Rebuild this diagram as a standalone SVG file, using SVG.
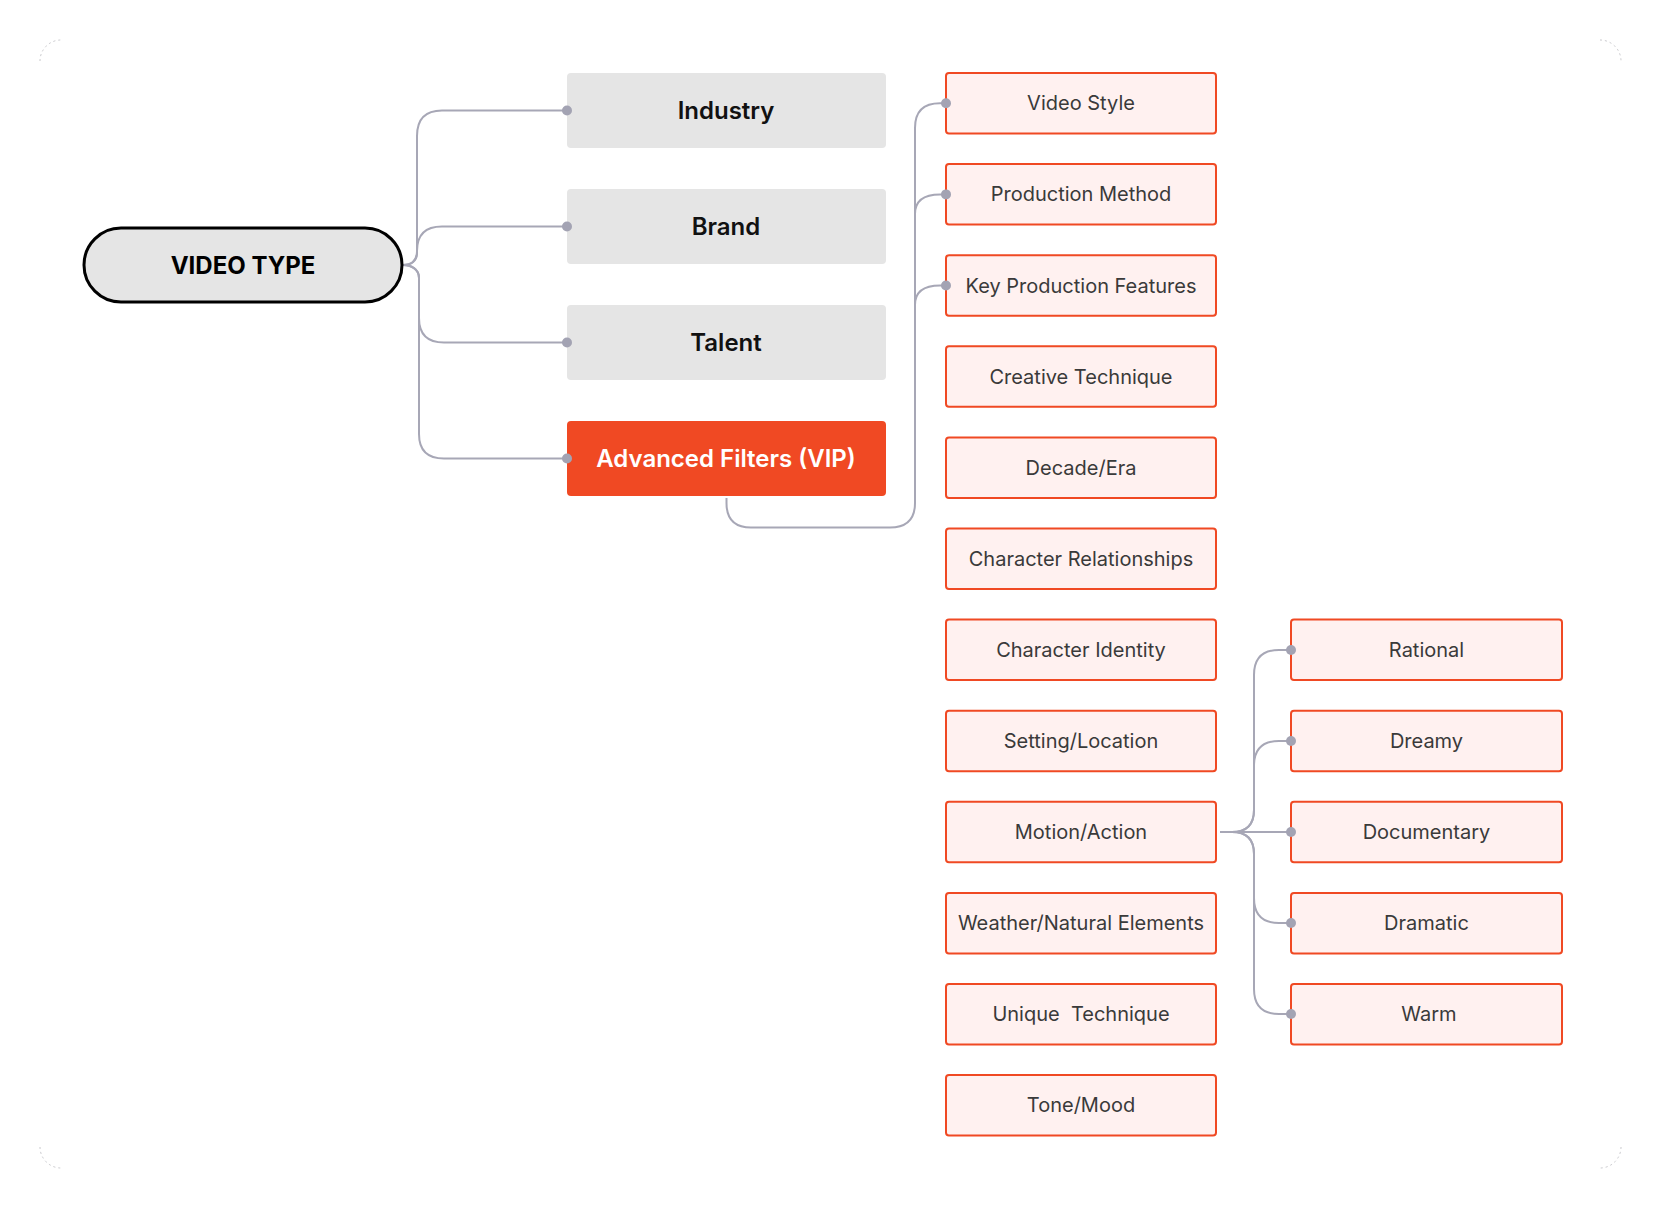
<svg xmlns="http://www.w3.org/2000/svg" width="1661" height="1209" viewBox="0 0 1661 1209">
<style>
.frame{fill:none;stroke:#c8c8cc;stroke-width:1;stroke-dasharray:2 3}
.con{fill:none;stroke:#a7a7b6;stroke-width:2}
.dot{fill:#a3a3b3}
.gray rect{fill:#e5e5e5}
.gray text{font-family:Inter,"Liberation Sans",sans-serif;font-size:24px;font-weight:600;fill:#111;text-anchor:middle;dominant-baseline:central}
.vip rect{fill:#f04923}
.vip text{font-family:Inter,"Liberation Sans",sans-serif;font-size:24px;font-weight:600;fill:#fff;text-anchor:middle;dominant-baseline:central}
.leaf rect{fill:#fff1f0;stroke:#f04923;stroke-width:2}
.leaf text{font-family:Inter,"Liberation Sans",sans-serif;font-size:20px;fill:#3a3a3a;text-anchor:middle;dominant-baseline:central}
.root rect{fill:#e5e5e5;stroke:#000;stroke-width:3}
.root text{font-family:Inter,"Liberation Sans",sans-serif;font-size:24px;font-weight:700;fill:#000;text-anchor:middle;dominant-baseline:central}
</style>
<rect width="1661" height="1209" fill="#fff"/>
<path class="frame" d="M40 61 A21 21 0 0 1 61 40"/>
<path class="frame" d="M1600 40 A21 21 0 0 1 1621 61"/>
<path class="frame" d="M40 1147 A21 21 0 0 0 61 1168"/>
<path class="frame" d="M1621 1147 A21 21 0 0 1 1600 1168"/>

<g id="connectors">
<path class="con" d="M403 265 C411 265 417 261 417 253 L417 136 Q417 110.5 442 110.5 L567 110.5"/>
<path class="con" d="M403 265 C411 265 417 261 417 251 Q417 226.5 442 226.5 L567 226.5"/>
<path class="con" d="M403 265 C411 265 419 269 419 278 L419 318 Q419 342.5 444 342.5 L567 342.5"/>
<path class="con" d="M403 265 C411 265 419 269 419 278 L419 434 Q419 458.5 444 458.5 L567 458.5"/>
<path class="con" d="M726.5 498 L726.5 503 Q726.5 527.5 751 527.5 L890 527.5 Q915 527.5 915 503 L915 128 Q915 103.3 940 103.3 L946 103.3"/>
<path class="con" d="M915 214 C915 201 924 194.4 940 194.4 L946 194.4"/>
<path class="con" d="M915 305 C915 292 924 285.5 940 285.5 L946 285.5"/>
<path class="con" d="M1220 832 L1291 832"/>
<path class="con" d="M1220 832 L1232 832 Q1254 832 1254 810 L1254 675 Q1254 650 1279 650 L1291 650"/>
<path class="con" d="M1220 832 L1232 832 Q1254 832 1254 810 L1254 766 Q1254 741 1279 741 L1291 741"/>
<path class="con" d="M1220 832 L1232 832 Q1254 832 1254 854 L1254 898 Q1254 923 1279 923 L1291 923"/>
<path class="con" d="M1220 832 L1232 832 Q1254 832 1254 854 L1254 989 Q1254 1014 1279 1014 L1291 1014"/>
</g>

<g id="root" class="root"><rect x="84" y="228" width="318" height="74" rx="37"/><text x="243" y="265">VIDEO TYPE</text></g>

<g id="industry" class="gray"><rect x="567" y="73" width="319" height="75" rx="4"/><text x="726" y="110.5">Industry</text></g>
<g id="brand" class="gray"><rect x="567" y="189" width="319" height="75" rx="4"/><text x="726" y="226.5">Brand</text></g>
<g id="talent" class="gray"><rect x="567" y="305" width="319" height="75" rx="4"/><text x="726" y="342.5">Talent</text></g>
<g id="advanced" class="vip"><rect x="567" y="421" width="319" height="75" rx="4"/><text x="726" y="458.5">Advanced Filters (VIP)</text></g>

<g id="video-style" class="leaf"><rect x="946" y="73" width="270" height="60.5" rx="3"/><text x="1081" y="103.3">Video Style</text></g>
<g id="production-method" class="leaf"><rect x="946" y="164.1" width="270" height="60.5" rx="3"/><text x="1081" y="194.4">Production Method</text></g>
<g id="key-production-features" class="leaf"><rect x="946" y="255.2" width="270" height="60.5" rx="3"/><text x="1081" y="285.5">Key Production Features</text></g>
<g id="creative-technique" class="leaf"><rect x="946" y="346.3" width="270" height="60.5" rx="3"/><text x="1081" y="376.6">Creative Technique</text></g>
<g id="decade-era" class="leaf"><rect x="946" y="437.4" width="270" height="60.5" rx="3"/><text x="1081" y="467.7">Decade/Era</text></g>
<g id="character-relationships" class="leaf"><rect x="946" y="528.5" width="270" height="60.5" rx="3"/><text x="1081" y="558.8">Character Relationships</text></g>
<g id="character-identity" class="leaf"><rect x="946" y="619.6" width="270" height="60.5" rx="3"/><text x="1081" y="649.9">Character Identity</text></g>
<g id="setting-location" class="leaf"><rect x="946" y="710.7" width="270" height="60.5" rx="3"/><text x="1081" y="741">Setting/Location</text></g>
<g id="motion-action" class="leaf"><rect x="946" y="801.8" width="270" height="60.5" rx="3"/><text x="1081" y="832.1">Motion/Action</text></g>
<g id="weather" class="leaf"><rect x="946" y="892.9" width="270" height="60.5" rx="3"/><text x="1081" y="923.2">Weather/Natural Elements</text></g>
<g id="unique-technique" class="leaf"><rect x="946" y="984" width="270" height="60.5" rx="3"/><text x="1081" y="1014.3" xml:space="preserve">Unique  Technique</text></g>
<g id="tone-mood" class="leaf"><rect x="946" y="1075.1" width="270" height="60.5" rx="3"/><text x="1081" y="1105.4">Tone/Mood</text></g>

<g id="rational" class="leaf"><rect x="1291" y="619.6" width="271" height="60.5" rx="3"/><text x="1426.5" y="649.9">Rational</text></g>
<g id="dreamy" class="leaf"><rect x="1291" y="710.7" width="271" height="60.5" rx="3"/><text x="1426.5" y="741">Dreamy</text></g>
<g id="documentary" class="leaf"><rect x="1291" y="801.8" width="271" height="60.5" rx="3"/><text x="1426.5" y="832.1">Documentary</text></g>
<g id="dramatic" class="leaf"><rect x="1291" y="892.9" width="271" height="60.5" rx="3"/><text x="1426.5" y="923.2">Dramatic</text></g>
<g id="warm" class="leaf"><rect x="1291" y="984" width="271" height="60.5" rx="3"/><text x="1429" y="1014.3">Warm</text></g>

<g id="connector-dots">
<circle class="dot" cx="567" cy="110.5" r="5"/>
<circle class="dot" cx="567" cy="226.5" r="5"/>
<circle class="dot" cx="567" cy="342.5" r="5"/>
<circle class="dot" cx="567" cy="458.5" r="5"/>
<circle class="dot" cx="946" cy="103.3" r="5"/>
<circle class="dot" cx="946" cy="194.4" r="5"/>
<circle class="dot" cx="946" cy="285.5" r="5"/>
<circle class="dot" cx="1291" cy="650" r="5"/>
<circle class="dot" cx="1291" cy="741" r="5"/>
<circle class="dot" cx="1291" cy="832" r="5"/>
<circle class="dot" cx="1291" cy="923" r="5"/>
<circle class="dot" cx="1291" cy="1014" r="5"/>
</g>
</svg>
